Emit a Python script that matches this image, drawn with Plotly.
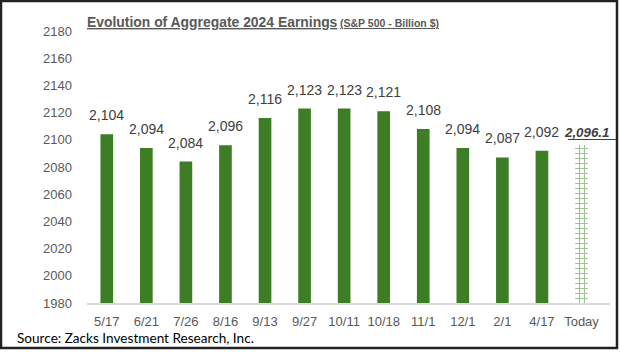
import plotly.graph_objects as go

categories = ["5/17", "6/21", "7/26", "8/16", "9/13", "9/27", "10/11", "10/18", "11/1", "12/1", "2/1", "4/17", "Today"]
values = [2104, 2094, 2084, 2096, 2116, 2123, 2123, 2121, 2108, 2094, 2087, 2092, 2096.1]
labels = ["2,104", "2,094", "2,084", "2,096", "2,116", "2,123", "2,123", "2,121", "2,108", "2,094", "2,087", "2,092", "2,096.1"]
y_ticks = list(range(1980, 2181, 20))

GREEN = "#3d7d25"
GRAY = "#595959"
FONT = "Liberation Sans, Arial"

W, H = 620, 352
ML, MR, MT, MB = 87, 10, 31, 49
pw, ph = W - ML - MR, H - MT - MB

def px_x(px):
    return (px - ML) / pw

def px_y(py):
    return (H - MB - py) / ph

fig = go.Figure()
fig.add_trace(go.Bar(
    x=categories[:-1], y=values[:-1],
    marker=dict(color=GREEN, line=dict(width=0)),
    width=0.32,
    hoverinfo="skip",
))
fig.add_trace(go.Bar(
    x=categories[-1:], y=values[-1:],
    marker=dict(color="white", line=dict(width=0),
                pattern=dict(shape="+", fgcolor="#3a8a28", bgcolor="white", size=5, solidity=0.4)),
    width=0.32,
    hoverinfo="skip",
))

annotations = []
for c, v, t in zip(categories, values, labels):
    if c == "Today":
        annotations.append(dict(x=c, y=v, text="<b><i>" + t + "</i></b>", showarrow=False,
                                yanchor="bottom", yshift=4, xshift=5, borderpad=0,
                                font=dict(family=FONT, size=13.3, color="#404040")))
    else:
        annotations.append(dict(x=c, y=v, text=t, showarrow=False, yanchor="bottom", yshift=9,
                                font=dict(family=FONT, size=14, color="#404040")))

annotations.append(dict(xref="paper", yref="paper", x=px_x(85), y=px_y(22), xanchor="left", yanchor="middle",
                        text="<b><u>Evolution of Aggregate 2024 Earnings</u></b>", showarrow=False,
                        font=dict(family=FONT, size=13.9, color=GRAY)))
annotations.append(dict(xref="paper", yref="paper", x=px_x(338), y=px_y(23), xanchor="left", yanchor="middle",
                        text="<b><u>(S&P 500 - Billion $)</u></b>", showarrow=False,
                        font=dict(family=FONT, size=10.5, color=GRAY)))
annotations.append(dict(xref="paper", yref="paper", x=px_x(15), y=px_y(338), xanchor="left", yanchor="middle",
                        text="Source: Zacks Investment Research, Inc.", showarrow=False,
                        font=dict(family="Lato, Carlito, Calibri", size=13.6, color="#000000")))

shapes = [
    dict(type="rect", xref="paper", yref="paper",
         x0=px_x(1), x1=px_x(617), y0=px_y(348), y1=px_y(1),
         line=dict(color="#222222", width=2.5), fillcolor="rgba(0,0,0,0)"),
    dict(type="line", xref="paper", yref="paper",
         x0=px_x(568), x1=px_x(616), y0=px_y(139.5), y1=px_y(139.5),
         line=dict(color="#404040", width=1.2)),
]

fig.update_layout(
    width=W, height=H,
    margin=dict(l=ML, r=MR, t=MT, b=MB, autoexpand=False),
    paper_bgcolor="white", plot_bgcolor="white",
    showlegend=False,
    barmode="overlay",
    annotations=annotations,
    shapes=shapes,
    xaxis=dict(type="category", categoryorder="array", categoryarray=categories,
               showgrid=False, showline=True, linecolor="#d9d9d9", linewidth=1.5,
               ticks="", tickfont=dict(family=FONT, size=13, color=GRAY),
               ticklabelstandoff=6),
    yaxis=dict(range=[1980, 2180], tickvals=y_ticks, ticktext=[str(t) for t in y_ticks],
               showgrid=False, showline=False, zeroline=False, ticks="",
               tickfont=dict(family=FONT, size=13, color=GRAY),
               ticklabelstandoff=14),
)

fig.write_html("out.html")
